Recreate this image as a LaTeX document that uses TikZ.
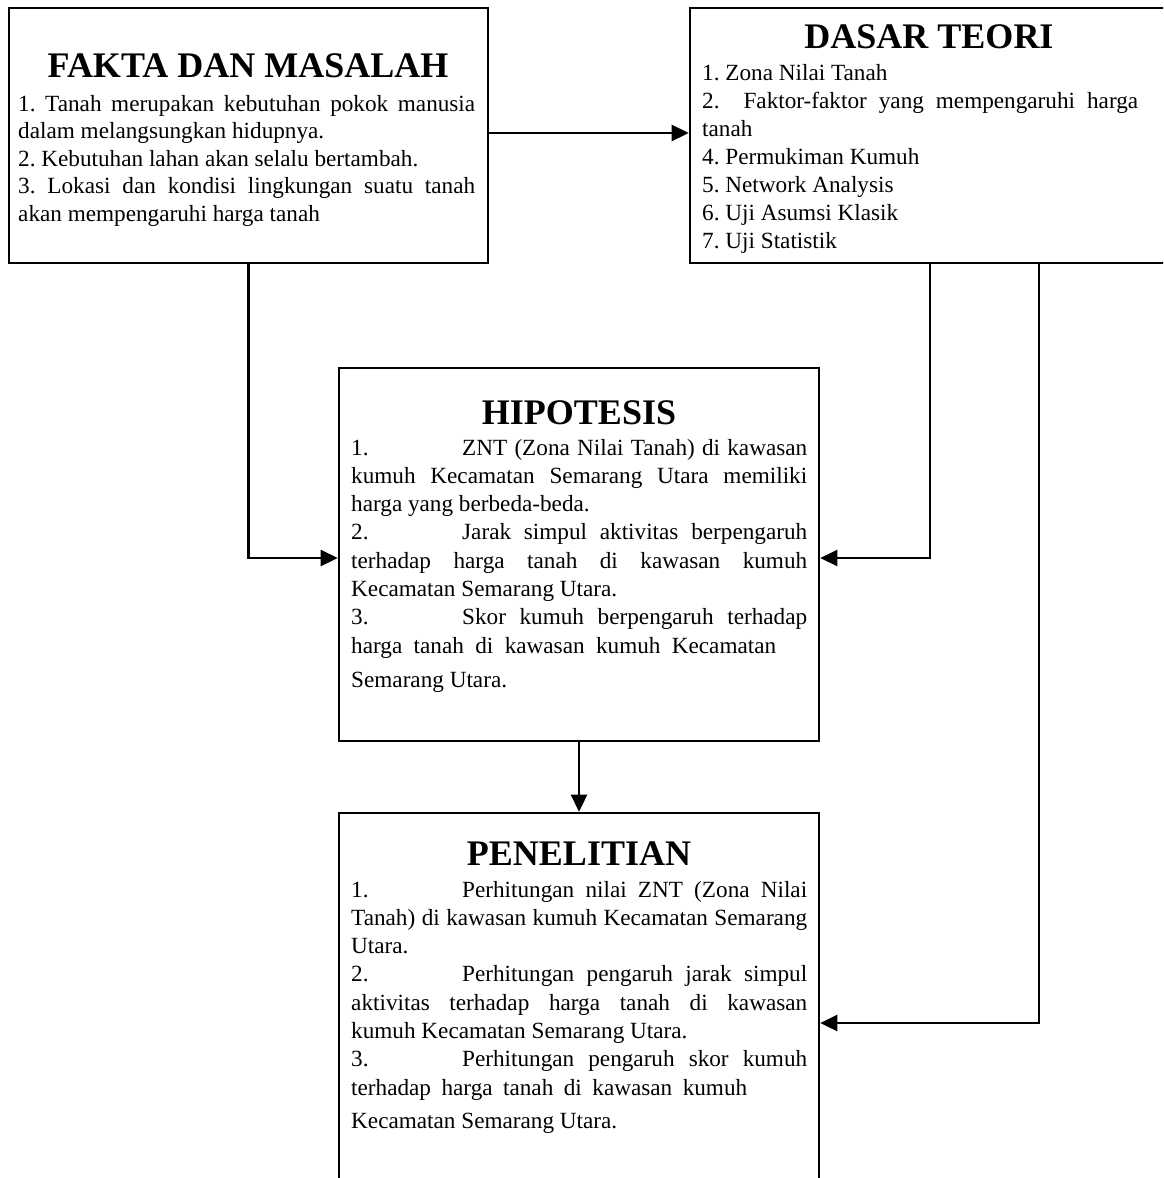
\documentclass[tikz,border=0pt]{standalone}
\usepackage{fontspec}
\setmainfont{Liberation Serif}
\usetikzlibrary{arrows.meta}
\newcommand{\jline}[2]{{\spaceskip=0.25em plus 1fil\relax\makebox[#1][s]{#2}}}
\newcommand{\tabnum}[1]{\makebox[111pt][l]{#1}}
\newcommand{\bodysetup}{\frenchspacing\spaceskip=0.25em plus 0.125em minus 0.083em\relax\xspaceskip=0.25em\relax}
\begin{document}
\begin{tikzpicture}[x=1pt,y=-1pt,
  boxnode/.style={draw=black, line width=2.6pt, inner sep=0pt, fill=none},
  titlenode/.style={inner sep=0pt, anchor=base, font=\fontsize{36}{40}\selectfont\bfseries},
  bodynode/.style={inner sep=0pt, anchor=base west},
  arr/.style={line width=2.6pt, -{Triangle[length=17pt,width=16pt]}}
]
\useasboundingbox (0,0) rectangle (1163,1178);
\clip (0,0) rectangle (1163,1178);
\fill[white] (0,0) rectangle (1163,1178);

% boxes
\node[boxnode, minimum width=479pt, minimum height=255pt] (fakta) at (248.5,135.5) {};
\node[boxnode, minimum width=485pt, minimum height=255pt] (dasar) at (932.5,135.5) {};
\node[boxnode, minimum width=480pt, minimum height=373pt] (hipo) at (579,554.5) {};
\node[boxnode, minimum width=480pt, minimum height=387pt] (pen) at (579,1006.5) {};

% titles
\node[titlenode] (faktaT) at (248,77) {FAKTA DAN MASALAH};
\node[titlenode] (dasarT) at (929,48) {DASAR TEORI};
\node[titlenode] (hipoT) at (579,424) {HIPOTESIS};
\node[titlenode] (penT) at (579,865) {PENELITIAN};

% bodies
\node[bodynode, text width=457pt, font=\fontsize{23.2}{27.5}\selectfont] (faktaB) at (18,111) {\bodysetup
\jline{457pt}{1. Tanah merupakan kebutuhan pokok manusia}\\
dalam melangsungkan hidupnya.\\
2. Kebutuhan lahan akan selalu bertambah.\\
\jline{457pt}{3. Lokasi dan kondisi lingkungan suatu tanah}\\
akan mempengaruhi harga tanah};

\node[bodynode, text width=436pt, font=\fontsize{23.2}{28}\selectfont] (dasarB) at (702,80) {\bodysetup
1. Zona Nilai Tanah\\
\jline{436pt}{2. \ Faktor-faktor yang mempengaruhi harga}\\
tanah\\
4. Permukiman Kumuh\\
5. Network Analysis\\
6. Uji Asumsi Klasik\\
7. Uji Statistik};

\node[bodynode, text width=456pt, font=\fontsize{23.2}{28.3}\selectfont] (hipoB) at (351,455) {\bodysetup
\jline{456pt}{\tabnum{1.}ZNT (Zona Nilai Tanah) di kawasan}\\
\jline{456pt}{kumuh Kecamatan Semarang Utara memiliki}\\
harga yang berbeda-beda.\\
\jline{456pt}{\tabnum{2.}Jarak simpul aktivitas berpengaruh}\\
\jline{456pt}{terhadap harga tanah di kawasan kumuh}\\
Kecamatan Semarang Utara.\\
\jline{456pt}{\tabnum{3.}Skor kumuh berpengaruh terhadap}\\
\jline{425pt}{harga tanah di kawasan kumuh Kecamatan}\\[5.7pt]
Semarang Utara.};

\node[bodynode, text width=456pt, font=\fontsize{23.2}{28.3}\selectfont] (penB) at (351,897) {\bodysetup
\jline{456pt}{\tabnum{1.}Perhitungan nilai ZNT (Zona Nilai}\\
\jline{456pt}{Tanah) di kawasan kumuh Kecamatan Semarang}\\
Utara.\\
\jline{456pt}{\tabnum{2.}Perhitungan pengaruh jarak simpul}\\
\jline{456pt}{aktivitas terhadap harga tanah di kawasan}\\
kumuh Kecamatan Semarang Utara.\\
\jline{456pt}{\tabnum{3.}Perhitungan pengaruh skor kumuh}\\
\jline{396pt}{terhadap harga tanah di kawasan kumuh}\\[5pt]
Kecamatan Semarang Utara.};

% connectors
\draw[arr] ([yshift=2.5pt]fakta.east) -- ([yshift=2.5pt]fakta.east -| dasar.west);
\draw[arr] (fakta.south) |- ([yshift=-3.5pt]hipo.west);
\draw[arr] ([xshift=-2.5pt]dasar.south) |- ([yshift=-3.5pt]hipo.east);
\draw[arr] ([xshift=106.5pt]dasar.south) |- ([yshift=-16.5pt]pen.east);
\draw[arr] (hipo.south) -- (pen.north);
\end{tikzpicture}
\end{document}
